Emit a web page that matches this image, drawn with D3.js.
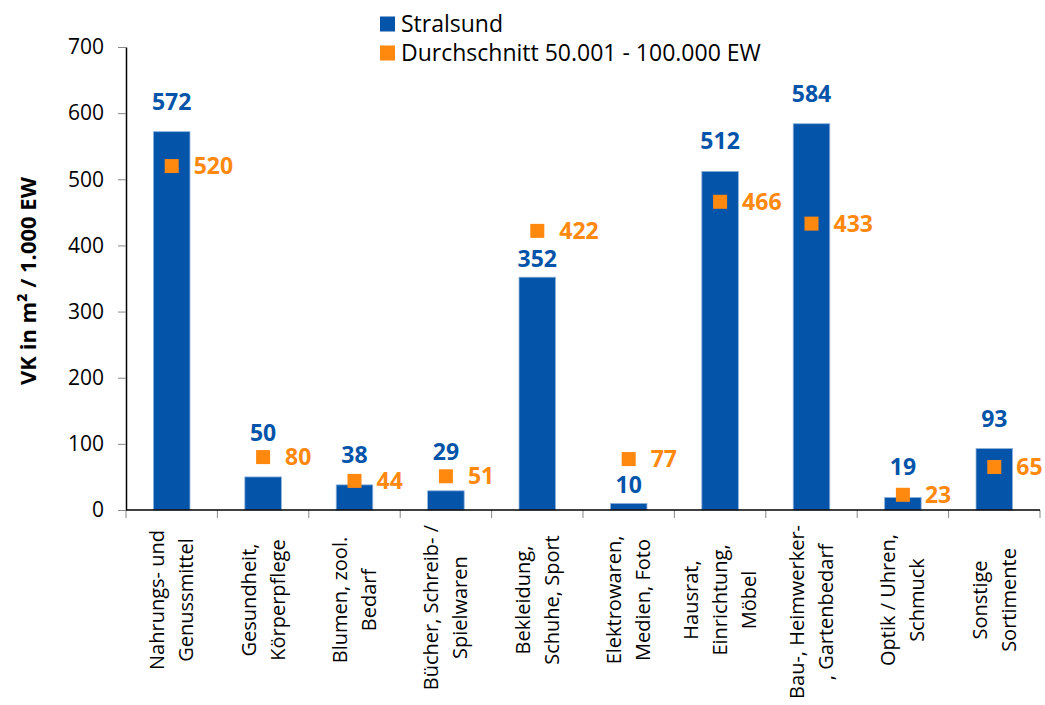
<!DOCTYPE html>
<html>
<head>
<meta charset="utf-8">
<script src="https://cdn.jsdelivr.net/npm/d3@7"></script>
<style>
  body { margin: 0; background: #fff; }
  svg text { font-family: "Open Sans", sans-serif; }
</style>
</head>
<body>
<div id="chart"></div>
<script>
// categories (line breaks as in the original labels)
var categories = [
    ["Nahrungs- und", "Genussmittel"],
    ["Gesundheit,", "Körperpflege"],
    ["Blumen, zool.", "Bedarf"],
    ["Bücher, Schreib- /", "Spielwaren"],
    ["Bekleidung,", "Schuhe, Sport"],
    ["Elektrowaren,", "Medien, Foto"],
    ["Hausrat,", "Einrichtung,", "Möbel"],
    ["Bau-, Heimwerker-", ", Gartenbedarf"],
    ["Optik / Uhren,", "Schmuck"],
    ["Sonstige", "Sortimente"]
]
var stralsund = [572, 50, 38, 29, 352, 10, 512, 584, 19, 93]
var durchschnitt = [520, 80, 44, 51, 422, 77, 466, 433, 23, 65]
var yTicks = [0, 100, 200, 300, 400, 500, 600, 700]
var seriesNames = ["Stralsund", "Durchschnitt 50.001 - 100.000 EW"]

var blue = "#0454AA"
var orange = "#FF880F"

var width = 1045
var height = 705
var margin = { top: 47, right: 5, bottom: 195, left: 126 }

var svg = d3.select("#chart")
    .append("svg")
    .attr("width", width)
    .attr("height", height)

var x = d3.scaleBand()
    .domain(d3.range(categories.length))
    .range([margin.left, 1040])
    .padding(0)

var y = d3.scaleLinear()
    .domain([0, 700])
    .range([height - margin.bottom, margin.top])

var barWidth = x.bandwidth() * 0.4

// y axis
var yAxis = svg.append("g")
    .attr("transform", "translate(" + margin.left + ",0)")
    .call(d3.axisLeft(y).tickValues(yTicks).tickSize(8).tickPadding(14).tickSizeOuter(0))
yAxis.select(".domain").attr("stroke", "#000").attr("stroke-width", 1.5)
yAxis.selectAll(".tick line").attr("stroke", "#888")
yAxis.selectAll(".tick text")
    .style("font-size", "21px")
    .attr("fill", "#000")

// x axis ticks between categories
var xEdges = d3.range(categories.length + 1).map(function (i) {
    return i < categories.length ? x(i) : x(i - 1) + x.step()
})
svg.selectAll(".xtick")
    .data(xEdges)
    .enter()
    .append("line")
    .attr("x1", function (d) { return d })
    .attr("x2", function (d) { return d })
    .attr("y1", y(0))
    .attr("y2", y(0) + 8)
    .attr("stroke", "#888")

// bars
svg.selectAll(".bar")
    .data(stralsund)
    .enter()
    .append("rect")
    .attr("x", function (d, i) { return x(i) + (x.bandwidth() - barWidth) / 2 })
    .attr("y", function (d) { return y(d) })
    .attr("width", barWidth)
    .attr("height", function (d) { return y(0) - y(d) })
    .attr("fill", blue)
    .attr("stroke", "#8fb3dc")
    .attr("stroke-width", 0.8)

svg.append("line")
    .attr("x1", margin.left)
    .attr("x2", 1040)
    .attr("y1", y(0))
    .attr("y2", y(0))
    .attr("stroke", "#000")
    .attr("stroke-width", 1.5)

// average markers
var m = 14
svg.selectAll(".marker")
    .data(durchschnitt)
    .enter()
    .append("rect")
    .attr("x", function (d, i) { return x(i) + x.bandwidth() / 2 - m / 2 })
    .attr("y", function (d) { return y(d) - m / 2 })
    .attr("width", m)
    .attr("height", m)
    .attr("fill", orange)

// bar value labels, moved off the marker when they would collide
function barLabelY(d, i) {
    var top = y(d)
    var my = y(durchschnitt[i])
    var ly = top - 30
    if (Math.abs(ly - my) >= 20) return ly
    if (top - 18 - my >= 19) return top - 18
    return my - 24
}

svg.selectAll(".barlabel")
    .data(stralsund)
    .enter()
    .append("text")
    .attr("x", function (d, i) { return x(i) + x.bandwidth() / 2 })
    .attr("y", barLabelY)
    .attr("dy", "0.35em")
    .attr("text-anchor", "middle")
    .attr("fill", blue)
    .style("font-size", "23px")
    .style("font-weight", "bold")
    .text(function (d) { return d })

svg.selectAll(".markerlabel")
    .data(durchschnitt)
    .enter()
    .append("text")
    .attr("x", function (d, i) { return x(i) + x.bandwidth() / 2 + 22 })
    .attr("y", function (d) { return y(d) })
    .attr("dy", "0.35em")
    .attr("fill", orange)
    .style("font-size", "23px")
    .style("font-weight", "bold")
    .text(function (d) { return d })

// category labels, rotated
var lineHeight = 29
categories.forEach(function (lines, i) {
    var cx = x(i) + x.bandwidth() / 2
    var g = svg.append("g")
    var texts = g.selectAll("text")
        .data(lines)
        .enter()
        .append("text")
        .attr("text-anchor", "middle")
        .attr("fill", "#000")
        .style("font-size", "20px")
        .text(function (d) { return d })
    var maxLen = d3.max(texts.nodes(), function (n) { return n.getComputedTextLength() })
    var cy = Math.max(600, 525 + maxLen / 2)
    var n = lines.length
    texts.attr("transform", function (d, j) {
        var off = (j - (n - 1) / 2) * lineHeight
        return "translate(" + (cx + off) + "," + cy + ") rotate(-90)"
    })
        .attr("dy", "0.35em")
})

// y axis title
svg.append("text")
    .attr("transform", "translate(28,281) rotate(-90)")
    .attr("text-anchor", "middle")
    .attr("dy", "0.35em")
    .style("font-size", "22px")
    .style("font-weight", "bold")
    .text("VK in m² / 1.000 EW")

// legend
var legend = svg.selectAll(".legend")
    .data(seriesNames)
    .enter()
    .append("g")
    .attr("transform", function (d, i) { return "translate(380," + (24 + i * 29) + ")" })
legend.append("rect")
    .attr("x", 0)
    .attr("y", -7.5)
    .attr("width", 15)
    .attr("height", 15)
    .attr("fill", function (d, i) { return i === 0 ? blue : orange })
legend.append("text")
    .attr("x", 21)
    .attr("dy", "0.35em")
    .style("font-size", "23px")
    .attr("fill", "#000")
    .text(function (d) { return d })
</script>
</body>
</html>
